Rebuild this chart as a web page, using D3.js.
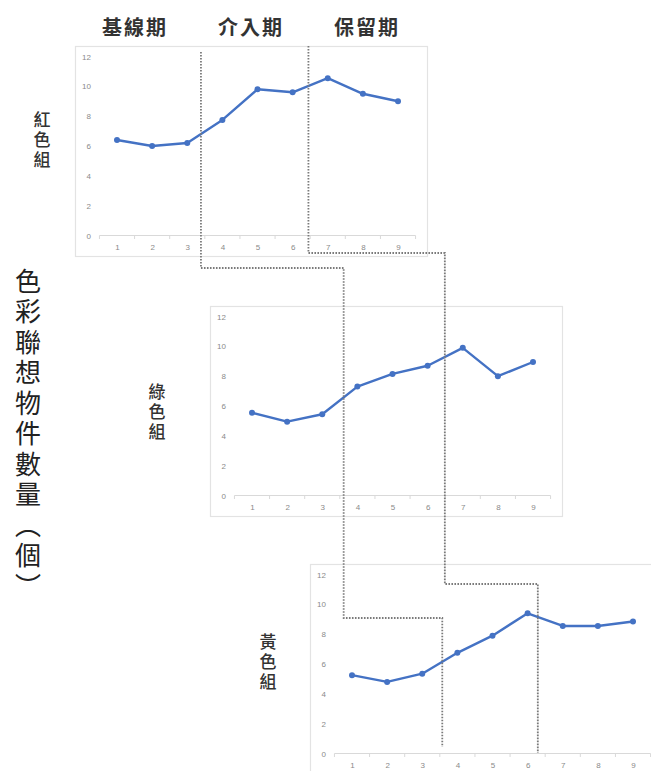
<!DOCTYPE html>
<html>
<head>
<meta charset="utf-8">
<script src="https://cdn.jsdelivr.net/npm/d3@7/dist/d3.min.js"></script>
<style>
  html, body { margin: 0; padding: 0; background: #fff; }
  svg { display: block; }
</style>
</head>
<body>
<svg id="chart" width="651" height="771"></svg>
<script>
// Sessions 1–9 and the mean object count per session for each colour group
const sessions = ["1", "2", "3", "4", "5", "6", "7", "8", "9"];
const redGroup    = [6.4, 6.0, 6.2, 7.75, 9.8, 9.6, 10.55, 9.5, 9.0];
const greenGroup  = [5.55, 4.95, 5.45, 7.3, 8.15, 8.7, 9.9, 8.0, 8.95];
const yellowGroup = [5.25, 4.8, 5.35, 6.75, 7.9, 9.4, 8.55, 8.55, 8.85];
const yTicks = [0, 2, 4, 6, 8, 10, 12];
const phaseNames = ["基線期", "介入期", "保留期"];
const groupNames = ["紅色組", "綠色組", "黃色組"];
const yTitle = "色彩聯想物件數量（個）";
// Phase boundaries for each panel, in session units
const phaseBreaks = [[3.39, 6.45], [3.61, 6.49], [3.57, 6.29]];

const svg = d3.select("#chart");
const FONT = "'Noto Sans CJK TC', 'Noto Sans CJK SC', sans-serif";
const LINE = "#4472C4";

const boxW = 352, boxH = 210;
const panels = [
  { values: redGroup,    box: [75, 46],  label: [42, 111] },
  { values: greenGroup,  box: [210, 306], label: [157, 383] },
  { values: yellowGroup, box: [310, 564], label: [268, 633] }
];

panels.forEach((p, i) => {
  const [bx, by] = p.box;
  const g = svg.append("g");

  // chart frame
  g.append("rect")
    .attr("x", bx + 0.5).attr("y", by + 0.5)
    .attr("width", boxW).attr("height", boxH)
    .attr("fill", "#fff").attr("stroke", "#e3e3e3").attr("stroke-width", 1.2);

  const x = d3.scalePoint().domain(sessions)
    .range([bx + 24.4 + 17.6, bx + 340.6 - 17.6]);
  const step = x.step();
  const y = d3.scaleLinear().domain([0, 12]).range([by + 189.5, by + 10.5]);
  p.x = v => x("1") + (v - 1) * step;
  p.y = y;

  // value axis labels (no axis line)
  const yAxis = d3.axisLeft(y).tickValues(yTicks).tickSize(0).tickPadding(0);
  const ya = g.append("g").attr("transform", `translate(${bx + 16},0)`).call(yAxis);
  ya.select(".domain").remove();
  ya.selectAll("text").attr("font-family", "Liberation Sans, Arial, sans-serif")
    .attr("font-size", 8).attr("fill", "#8a8a8a");

  // category axis with tick marks between sessions
  const left = x("1") - step / 2, right = x("9") + step / 2;
  const base = y(0);
  g.append("line").attr("x1", left).attr("x2", right)
    .attr("y1", base).attr("y2", base)
    .attr("stroke", "#d9d9d9").attr("stroke-width", 1);
  const between = d3.range(0, sessions.length + 1).map(k => left + k * step);
  g.selectAll(".tk").data(between).join("line")
    .attr("x1", d => d).attr("x2", d => d)
    .attr("y1", base).attr("y2", base + 3.5)
    .attr("stroke", "#d9d9d9").attr("stroke-width", 1);
  const xAxis = d3.axisBottom(x).tickSize(0).tickPadding(0);
  const xa = g.append("g").attr("transform", `translate(0,${base + 14.5})`).call(xAxis);
  xa.select(".domain").remove();
  xa.selectAll("text").attr("dy", 0).attr("font-family", "Liberation Sans, Arial, sans-serif")
    .attr("font-size", 8).attr("fill", "#8a8a8a");

  // data line and markers
  const pts = p.values.map((v, k) => ({ s: sessions[k], v }));
  g.append("path").datum(pts)
    .attr("fill", "none").attr("stroke", LINE).attr("stroke-width", 2.4)
    .attr("stroke-linejoin", "round")
    .attr("d", d3.line().x(d => x(d.s)).y(d => y(d.v)));
  g.selectAll(".pt").data(pts).join("circle")
    .attr("cx", d => x(d.s)).attr("cy", d => y(d.v)).attr("r", 3)
    .attr("fill", LINE);

  // group label, written vertically
  svg.append("text")
    .attr("x", p.label[0]).attr("y", p.label[1])
    .attr("font-family", FONT).attr("font-size", 17).attr("font-weight", 500)
    .attr("fill", "#333")
    .style("writing-mode", "vertical-rl").style("letter-spacing", "3px")
    .text(groupNames[i]);
});

// dotted phase dividers stepping down through the three panels
const elbowY = [[52, 268, 618, 747], [46, 253, 584, 753]];
[0, 1].forEach(j => {
  const xs = panels.map((p, i) => p.x(phaseBreaks[i][j]));
  const ys = elbowY[j];
  const pts = [
    [xs[0], ys[0]], [xs[0], ys[1]], [xs[1], ys[1]], [xs[1], ys[2]],
    [xs[2], ys[2]], [xs[2], ys[3]]
  ];
  svg.append("path")
    .attr("d", d3.line()(pts))
    .attr("fill", "none").attr("stroke", "#7a7a7a")
    .attr("stroke-width", 1.8).attr("stroke-dasharray", "1.6 1.4");
});

// phase headings
const headX = [135, 251, 367];
svg.selectAll(".phase").data(phaseNames).join("text")
  .attr("x", (d, i) => headX[i]).attr("y", 35)
  .attr("text-anchor", "middle")
  .attr("font-family", FONT).attr("font-size", 20).attr("font-weight", 700)
  .attr("fill", "#333").style("letter-spacing", "2px")
  .text(d => d);

// overall value-axis title
svg.append("text")
  .attr("x", 28).attr("y", 268)
  .attr("font-family", FONT).attr("font-size", 26).attr("font-weight", 400)
  .attr("fill", "#222")
  .style("writing-mode", "vertical-rl").style("letter-spacing", "4.5px")
  .text(yTitle);
</script>
</body>
</html>
